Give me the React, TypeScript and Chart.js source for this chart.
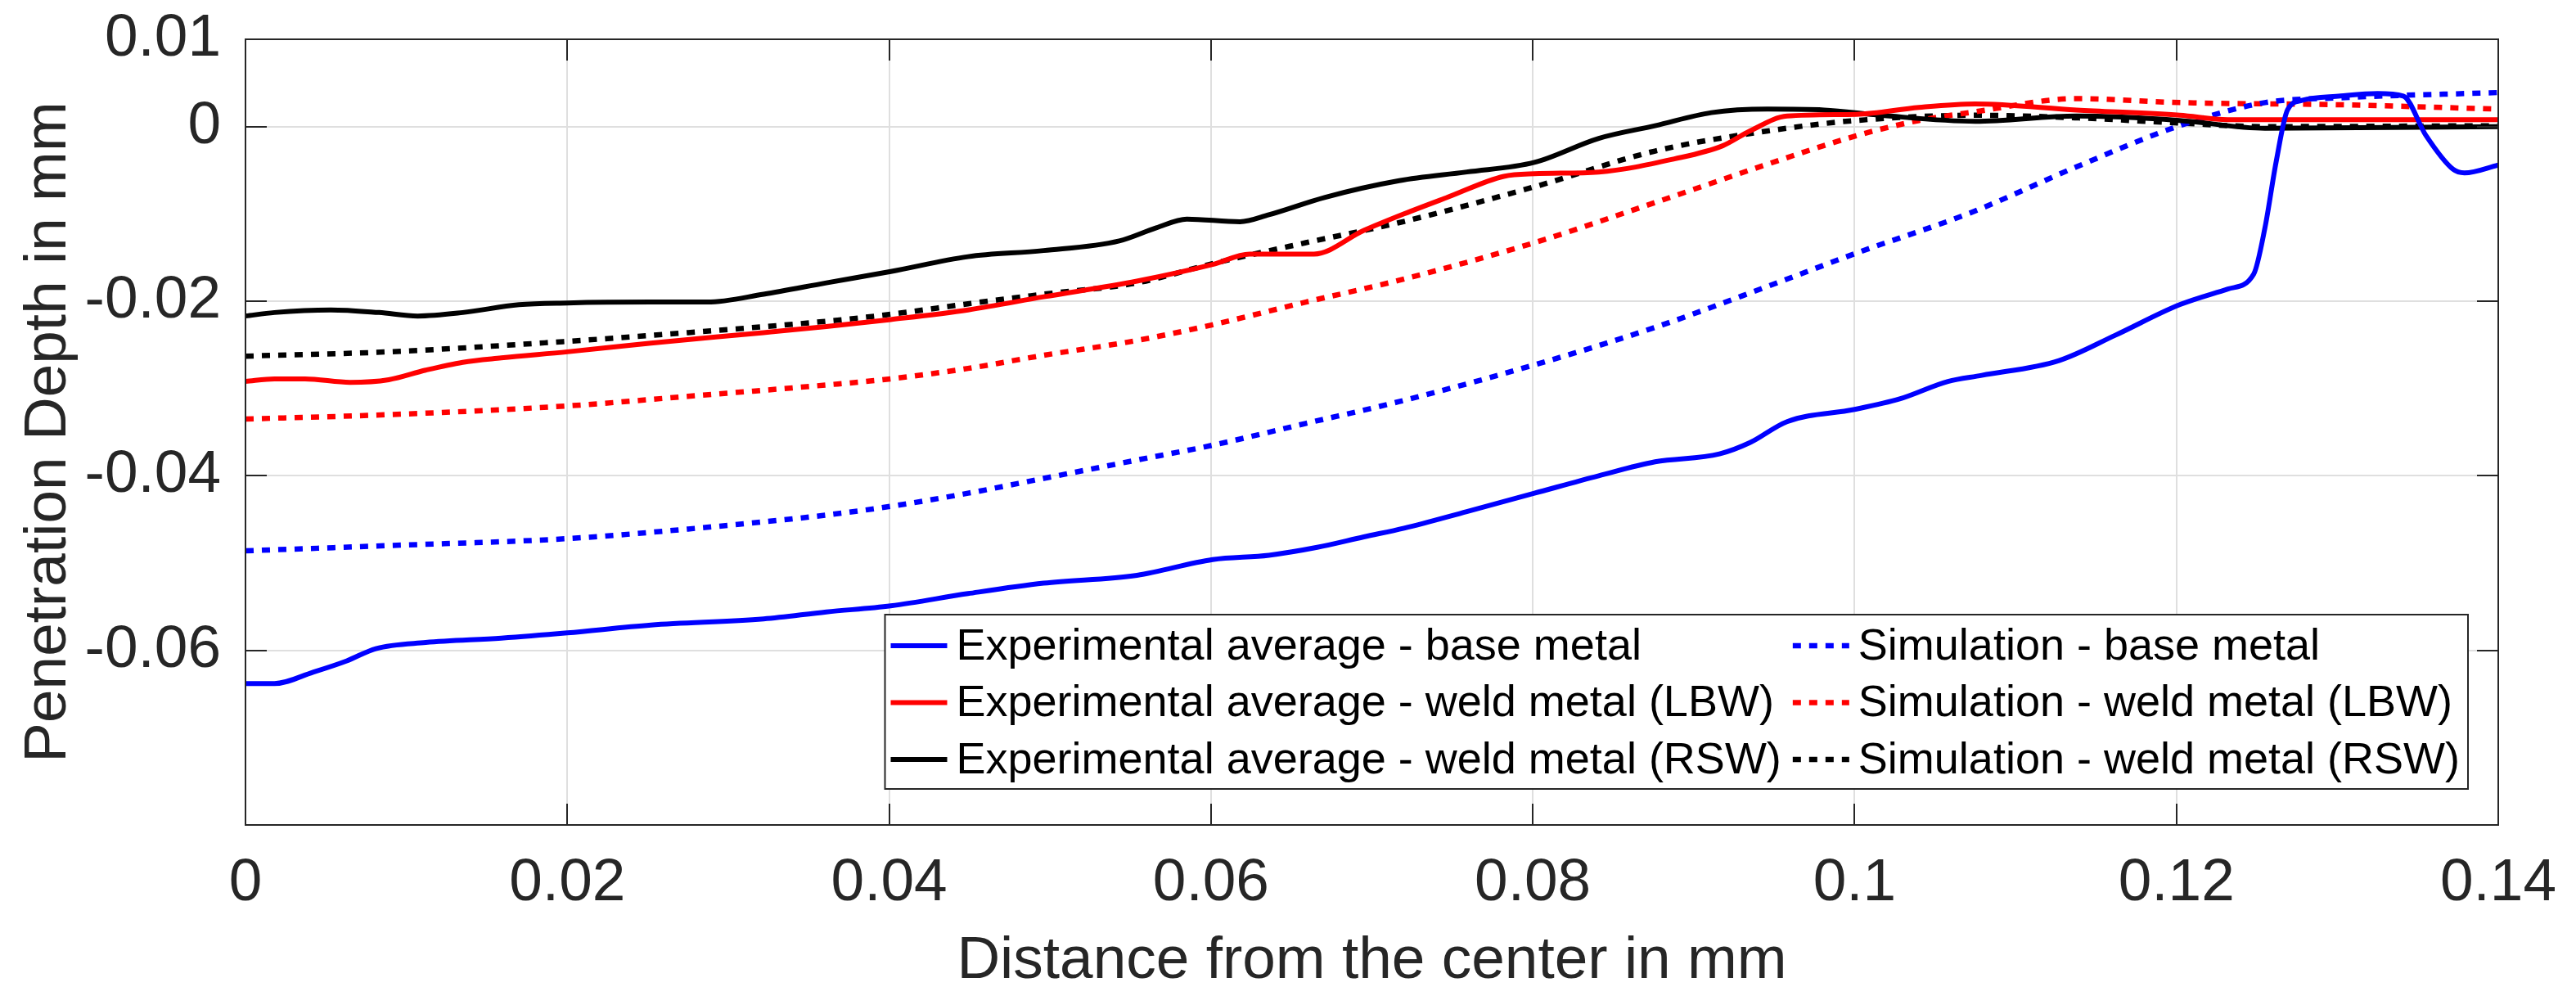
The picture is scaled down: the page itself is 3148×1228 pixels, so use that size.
import React, { useEffect, useRef } from "react";
import { Chart, registerables } from "chart.js";

Chart.register(...registerables);

const FONT = "'Liberation Sans', Arial, Helvetica, sans-serif";
const AXIS_COLOR = "#262626";

const xTicks = [0, 0.02, 0.04, 0.06, 0.08, 0.1, 0.12, 0.14];
const yTicks = [-0.06, -0.04, -0.02, 0, 0.01];

const seriesLabels = [
  "Experimental average - base metal",
  "Experimental average - weld metal (LBW)",
  "Experimental average - weld metal (RSW)",
  "Simulation - base metal",
  "Simulation - weld metal (LBW)",
  "Simulation - weld metal (RSW)",
];

const expBaseX = [0, 0.0018, 0.0042, 0.0063, 0.0081, 0.0112, 0.0159, 0.02, 0.0252, 0.0322, 0.0361, 0.0401, 0.0449, 0.0496, 0.0554, 0.0601, 0.0636, 0.0666, 0.0695, 0.072, 0.0759, 0.0801, 0.0841, 0.0876, 0.0916, 0.0935, 0.0958, 0.1, 0.1028, 0.1058, 0.1079, 0.1127, 0.1162, 0.1202, 0.1232, 0.1248, 0.1255, 0.1262, 0.1269, 0.1278, 0.1302, 0.1325, 0.1341, 0.1355, 0.1372, 0.1379, 0.14];
const expBaseY = [-0.0638, -0.0638, -0.0625, -0.0612, -0.0598, -0.0591, -0.0586, -0.058, -0.0571, -0.0564, -0.0556, -0.0549, -0.0535, -0.0523, -0.0514, -0.0496, -0.0491, -0.0482, -0.047, -0.046, -0.0441, -0.042, -0.04, -0.0384, -0.0375, -0.0362, -0.0338, -0.0324, -0.0312, -0.0292, -0.0285, -0.0268, -0.0239, -0.0204, -0.0186, -0.0169, -0.0116, -0.004, 0.0019, 0.003, 0.0035, 0.0038, 0.0035, -0.001, -0.0049, -0.0053, -0.0044];

const expLbwX = [0, 0.0018, 0.0037, 0.0065, 0.0089, 0.0112, 0.0135, 0.0159, 0.02, 0.0252, 0.0322, 0.0361, 0.0401, 0.0449, 0.0496, 0.0554, 0.0601, 0.0624, 0.0664, 0.0695, 0.072, 0.0747, 0.0782, 0.0801, 0.0841, 0.0888, 0.0918, 0.0935, 0.0958, 0.1001, 0.104, 0.1075, 0.1138, 0.1202, 0.1232, 0.14];
const expLbwY = [-0.0292, -0.0289, -0.0289, -0.0293, -0.029, -0.0279, -0.027, -0.0265, -0.0258, -0.0248, -0.0236, -0.0229, -0.0221, -0.021, -0.0195, -0.0177, -0.0158, -0.0146, -0.0146, -0.0119, -0.01, -0.0081, -0.0057, -0.0054, -0.0052, -0.0037, -0.0022, -0.0005, 0.0012, 0.0014, 0.0022, 0.0026, 0.0019, 0.0013, 0.0008, 0.0008];

const expRswX = [0, 0.0018, 0.0053, 0.0083, 0.0107, 0.0135, 0.017, 0.02, 0.0252, 0.0287, 0.0322, 0.0361, 0.0401, 0.0449, 0.0496, 0.0543, 0.0566, 0.0585, 0.0618, 0.0636, 0.0671, 0.0717, 0.0759, 0.0801, 0.0841, 0.0876, 0.0911, 0.0946, 0.0981, 0.1016, 0.1075, 0.1138, 0.1202, 0.1255, 0.14];
const expRswY = [-0.0217, -0.0213, -0.021, -0.0213, -0.0217, -0.0213, -0.0204, -0.0202, -0.0201, -0.0201, -0.0192, -0.0179, -0.0166, -0.0149, -0.0142, -0.0131, -0.0116, -0.0106, -0.0109, -0.0101, -0.0081, -0.0062, -0.0052, -0.0041, -0.00135, 0.0001, 0.0016, 0.002, 0.0019, 0.0013, 0.0006, 0.0012, 0.0007, -0.0002, 0];

const simBaseX = [0, 0.0089, 0.02, 0.0275, 0.0361, 0.0401, 0.0449, 0.0496, 0.0554, 0.0601, 0.0659, 0.0717, 0.0801, 0.0876, 0.0946, 0.1001, 0.1073, 0.1138, 0.1202, 0.1255, 0.1302, 0.14];
const simBaseY = [-0.0486, -0.048, -0.0472, -0.0461, -0.0445, -0.0435, -0.042, -0.0403, -0.0382, -0.0365, -0.034, -0.0315, -0.0273, -0.023, -0.0183, -0.0145, -0.0098, -0.0046, 0.0001, 0.00275, 0.0033, 0.0039];

const simLbwX = [0, 0.0089, 0.02, 0.0275, 0.0361, 0.0401, 0.0449, 0.0496, 0.0554, 0.0601, 0.0659, 0.0717, 0.0801, 0.0876, 0.0946, 0.1001, 0.104, 0.1075, 0.1138, 0.1202, 0.1302, 0.14];
const simLbwY = [-0.0335, -0.033, -0.032, -0.0309, -0.0296, -0.0289, -0.0277, -0.0262, -0.0245, -0.0227, -0.0201, -0.0176, -0.0133, -0.0087, -0.0043, -0.00105, 0.0007, 0.0017, 0.0032, 0.00275, 0.0025, 0.002];

const simRswX = [0, 0.0089, 0.02, 0.0275, 0.0361, 0.0401, 0.0449, 0.0496, 0.0554, 0.0601, 0.0659, 0.0717, 0.0801, 0.0876, 0.0946, 0.1001, 0.1075, 0.1138, 0.1202, 0.1255, 0.14];
const simRswY = [-0.0263, -0.0258, -0.0246, -0.0236, -0.0223, -0.0215, -0.0203, -0.0192, -0.0179, -0.0157, -0.0133, -0.011, -0.0069, -0.0028, -0.0005, 0.0007, 0.0013, 0.001, 0.0004, 0, 0.0001];

function zip(xs: number[], ys: number[]) {
  const n = Math.min(xs.length, ys.length);
  const out: { x: number; y: number }[] = [];
  for (let i = 0; i < n; i++) out.push({ x: xs[i], y: ys[i] });
  return out;
}

function fmt(v: number) {
  return String(parseFloat(v.toFixed(4)));
}

const boxPlugin = {
  id: "matlabBox",
  afterDraw(chart: any) {
    const ctx = chart.ctx;
    const ca = chart.chartArea;
    const xs = chart.scales.x;
    const ys = chart.scales.y;
    const tl = 26;
    ctx.save();
    ctx.strokeStyle = AXIS_COLOR;
    ctx.lineWidth = 2;
    ctx.setLineDash([]);
    ctx.beginPath();
    xTicks.forEach((v) => {
      const px = Math.round(xs.getPixelForValue(v));
      ctx.moveTo(px, ca.bottom);
      ctx.lineTo(px, ca.bottom - tl);
      ctx.moveTo(px, ca.top);
      ctx.lineTo(px, ca.top + tl);
    });
    yTicks.forEach((v) => {
      const py = Math.round(ys.getPixelForValue(v));
      ctx.moveTo(ca.left, py);
      ctx.lineTo(ca.left + tl, py);
      ctx.moveTo(ca.right, py);
      ctx.lineTo(ca.right - tl, py);
    });
    ctx.stroke();
    ctx.strokeRect(ca.left, ca.top, ca.right - ca.left, ca.bottom - ca.top);

    // legend
    const ds = chart.data.datasets;
    const cols = [
      [0, 1, 2],
      [3, 4, 5],
    ];
    ctx.font = `54px ${FONT}`;
    const sample = 69;
    const gapT = 11;
    const colGap = 14;
    const padL = 7;
    const padR = 10;
    const rowH = 69.5;
    const firstRow = 38;
    const boxH = 213;
    const colW = cols.map((c) => Math.max(...c.map((i) => ctx.measureText(ds[i].label).width)));
    let totalW = padL + padR + colGap * (cols.length - 1);
    colW.forEach((w) => (totalW += sample + gapT + w));
    const right = ca.right - 37;
    const bottom = ca.bottom - 44;
    const left = right - totalW;
    const top = bottom - boxH;
    ctx.fillStyle = "#ffffff";
    ctx.fillRect(left, top, totalW, boxH);
    ctx.lineWidth = 2;
    ctx.strokeStyle = AXIS_COLOR;
    ctx.strokeRect(left, top, totalW, boxH);
    let x = left + padL;
    cols.forEach((c, k) => {
      c.forEach((i, r) => {
        const y = top + firstRow + r * rowH;
        const d = ds[i];
        ctx.beginPath();
        ctx.setLineDash(d.borderDash || []);
        ctx.lineWidth = d.borderWidth;
        ctx.strokeStyle = d.borderColor;
        ctx.moveTo(x, y);
        ctx.lineTo(x + sample, y);
        ctx.stroke();
        ctx.setLineDash([]);
        ctx.fillStyle = "#000000";
        ctx.textBaseline = "middle";
        ctx.textAlign = "left";
        ctx.fillText(d.label, x + sample + gapT, y + 2);
      });
      x += sample + gapT + colW[k] + colGap;
    });
    ctx.restore();
  },
};

export default function App() {
  const ref = useRef<HTMLCanvasElement | null>(null);

  useEffect(() => {
    const canvas = ref.current;
    if (!canvas) return;
    const solid = (label: string, color: string, xs: number[], ys: number[]) => ({
      label,
      data: zip(xs, ys),
      borderColor: color,
      backgroundColor: color,
      borderWidth: 6,
      pointRadius: 0,
      fill: false,
      cubicInterpolationMode: "monotone" as const,
    });
    const dotted = (label: string, color: string, xs: number[], ys: number[]) => ({
      ...solid(label, color, xs, ys),
      borderWidth: 6.5,
      borderDash: [10, 10],
    });
    const chart = new Chart(canvas, {
      type: "line",
      data: {
        datasets: [
          solid(seriesLabels[0], "#0000ff", expBaseX, expBaseY),
          solid(seriesLabels[1], "#ff0000", expLbwX, expLbwY),
          solid(seriesLabels[2], "#000000", expRswX, expRswY),
          dotted(seriesLabels[3], "#0000ff", simBaseX, simBaseY),
          dotted(seriesLabels[4], "#ff0000", simLbwX, simLbwY),
          dotted(seriesLabels[5], "#000000", simRswX, simRswY),
        ],
      },
      options: {
        animation: false,
        responsive: false,
        layout: { padding: { left: 0, top: 48, right: 95, bottom: 0 } },
        plugins: {
          legend: { display: false },
          tooltip: { enabled: false },
        },
        scales: {
          x: {
            type: "linear",
            min: 0,
            max: 0.14,
            afterBuildTicks: (s: any) => {
              s.ticks = xTicks.map((v) => ({ value: v }));
            },
            afterFit: (s: any) => {
              s.height = 220;
              s.paddingLeft = 0;
              s.paddingRight = 0;
            },
            ticks: {
              callback: (v: any) => fmt(Number(v)),
              font: { family: FONT, size: 73 },
              color: AXIS_COLOR,
              padding: 28,
              maxRotation: 0,
              autoSkip: false,
            },
            grid: { color: "#dfdfdf", lineWidth: 2, drawTicks: false },
            border: { display: false },
            title: {
              display: true,
              text: "Distance from the center in mm",
              font: { family: FONT, size: 73 },
              color: AXIS_COLOR,
              padding: { top: 0, bottom: 9 },
            },
          },
          y: {
            type: "linear",
            min: -0.08,
            max: 0.01,
            afterBuildTicks: (s: any) => {
              s.ticks = yTicks.map((v) => ({ value: v }));
            },
            afterFit: (s: any) => {
              s.width = 300;
              s.paddingTop = 0;
              s.paddingBottom = 0;
            },
            ticks: {
              callback: (v: any) => fmt(Number(v)),
              font: { family: FONT, size: 73 },
              color: AXIS_COLOR,
              padding: 30,
              autoSkip: false,
            },
            grid: { color: "#dfdfdf", lineWidth: 2, drawTicks: false },
            border: { display: false },
            title: {
              display: true,
              text: "Penetration Depth in mm",
              font: { family: FONT, size: 73 },
              color: AXIS_COLOR,
              padding: { top: 16, bottom: 0 },
            },
          },
        },
      },
      plugins: [boxPlugin],
    } as any);
    return () => chart.destroy();
  }, []);

  return (
    <div style={{ position: "absolute", left: 0, top: 0, width: 3148, height: 1228, background: "#ffffff" }}>
      <canvas ref={ref} width={3148} height={1228} style={{ width: 3148, height: 1228, display: "block" }} />
    </div>
  );
}
